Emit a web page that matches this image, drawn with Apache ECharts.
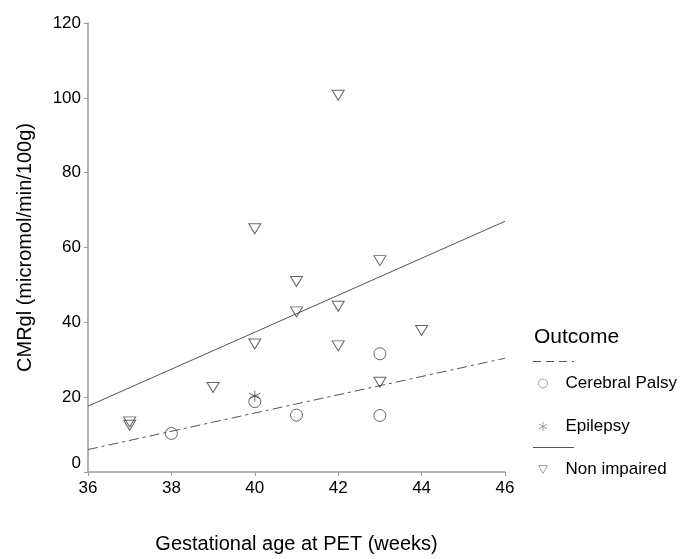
<!DOCTYPE html>
<html>
<head>
<meta charset="utf-8">
<script src="https://cdn.jsdelivr.net/npm/echarts@6/dist/echarts.min.js"></script>
<style>html,body{margin:0;padding:0;background:#fff}#c{width:682px;height:559px}</style>
</head>
<body>
<div id="c"></div>
<script>
// Data
var cerebralPalsy = [[38, 10.3], [40, 18.8], [41, 15.2], [43, 31.6], [43, 15.1]];
var epilepsy = [[40, 20.3]];
var nonImpaired = [[37, 13.4], [37, 12.5], [39, 22.6], [40, 65.0], [40, 34.2], [41, 50.9], [41, 42.8],
                   [42, 100.7], [42, 44.3], [42, 33.7], [43, 56.5], [43, 24.0], [44, 37.8]];
var fitNonImpaired = [[36, 17.6], [46, 67.0]];
var fitCerebralPalsy = [[36, 6.0], [46, 30.4]];
var xTicks = [36, 38, 40, 42, 44, 46];
var yTicks = [0, 20, 40, 60, 80, 100, 120];
var legendNames = ['Cerebral Palsy', 'Epilepsy', 'Non impaired'];

var FONT = 'Liberation Sans, Arial, sans-serif';
var MARK = '#3f3f3f';
var asterisk = 'path://M5,0L5,10M0.67,2.5L9.33,7.5M0.67,7.5L9.33,2.5';
var downTriangle = 'path://M0,0L10,0L5,8.66Z';

var chart = echarts.init(document.getElementById('c'));
chart.setOption({
  animation: false,
  backgroundColor: '#fff',
  textStyle: { fontFamily: FONT },
  grid: { left: 88, right: 177, top: 23, bottom: 81, containLabel: false },
  xAxis: {
    type: 'value', min: xTicks[0], max: xTicks[xTicks.length - 1], interval: 2,
    name: 'Gestational age at PET (weeks)', nameLocation: 'middle', nameGap: 62,
    nameTextStyle: { fontSize: 20, color: '#000', fontFamily: FONT },
    axisLine: { lineStyle: { color: '#999', width: 1.5 } },
    axisTick: { show: true, inside: false, length: 4, lineStyle: { color: '#999' } },
    axisLabel: { fontSize: 17, color: '#000', margin: 8, fontFamily: FONT },
    splitLine: { show: false }
  },
  yAxis: {
    type: 'value', min: yTicks[0], max: yTicks[yTicks.length - 1], interval: 20,
    name: 'CMRgl (micromol/min/100g)', nameLocation: 'middle', nameGap: 53,
    nameTextStyle: { fontSize: 20, color: '#000', fontFamily: FONT },
    axisLine: { show: true, lineStyle: { color: '#999', width: 1.5 } },
    axisTick: { show: true, inside: false, length: 4, lineStyle: { color: '#999' } },
    axisLabel: {
      fontSize: 17, color: '#000', margin: 7, fontFamily: FONT,
      formatter: function (v) { return v === 0 ? '{z|0}' : String(v); },
      rich: { z: { fontSize: 17, color: '#000', fontFamily: FONT, padding: [0, 0, 18, 0] } }
    },
    splitLine: { show: false }
  },
  legend: {
    orient: 'vertical', left: 538, top: 375, padding: 0, itemWidth: 9, itemHeight: 9, itemGap: 26,
    data: [
      { name: legendNames[0], icon: 'circle' },
      { name: legendNames[1], icon: asterisk },
      { name: legendNames[2], icon: downTriangle }
    ],
    itemStyle: { color: 'rgba(0,0,0,0)', borderColor: '#8a8a8a', borderWidth: 1 },
    textStyle: { fontSize: 17, color: '#000', fontFamily: FONT, padding: [0, 0, 0, 13] },
    selectedMode: false
  },
  graphic: [
    { type: 'text', left: 534, top: 327, style: { text: 'Outcome', fontSize: 21, fill: '#000', font: '21px ' + FONT } },
    { type: 'line', shape: { x1: 533, y1: 361.5, x2: 574, y2: 361.5 }, style: { stroke: '#555', lineWidth: 1, lineDash: [8, 5] } },
    { type: 'line', shape: { x1: 533, y1: 447.5, x2: 574, y2: 447.5 }, style: { stroke: '#555', lineWidth: 1 } }
  ],
  series: [
    { name: 'fitNI', type: 'line', data: fitNonImpaired, symbol: 'none', silent: true,
      lineStyle: { color: '#555', width: 1 }, z: 1 },
    { name: 'fitCP', type: 'line', data: fitCerebralPalsy, symbol: 'none', silent: true,
      lineStyle: { color: '#555', width: 1, type: [10, 4, 3, 4] }, z: 1 },
    { name: legendNames[0], type: 'scatter', data: cerebralPalsy, symbol: 'circle', symbolSize: 12,
      itemStyle: { color: 'rgba(0,0,0,0)', borderColor: MARK, borderWidth: 1 }, z: 3 },
    { name: legendNames[1], type: 'scatter', data: epilepsy, symbol: asterisk, symbolSize: 11,
      itemStyle: { color: 'rgba(0,0,0,0)', borderColor: MARK, borderWidth: 1 }, z: 4 },
    { name: legendNames[2], type: 'scatter', data: nonImpaired, symbol: 'triangle', symbolRotate: 180, symbolSize: [12, 10],
      itemStyle: { color: 'rgba(0,0,0,0)', borderColor: MARK, borderWidth: 1 }, z: 3 }
  ]
});
</script>
</body>
</html>
